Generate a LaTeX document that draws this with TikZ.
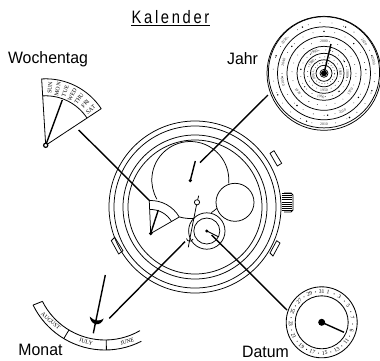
\documentclass[tikz,border=0pt]{standalone}
\usepackage{fontspec}
\usetikzlibrary{calc}
\setmainfont{Liberation Sans}
\newfontfamily\dialfont{Liberation Serif}
\newfontfamily\spacedfont[LetterSpace=18]{Liberation Sans}
\begin{document}
\begin{tikzpicture}[x=1pt,y=1pt,
  thinline/.style={line width=0.75pt,black},
  leader/.style={line width=1.4pt,black},
  hand/.style={line width=1.4pt,black},
  lab/.style={font=\fontsize{16.5}{17}\selectfont,inner sep=0pt,xscale=0.96},
  dial/.style={font=\dialfont\fontsize{5.8}{6}\selectfont,inner sep=0pt},
  year/.style={font=\dialfont\fontsize{3.8}{4}\selectfont,inner sep=0pt,fill=white,text=black!80},
  dots/.style={line width=0.8pt,line cap=round,dash pattern=on 0pt off #1}]
\useasboundingbox (0,0) rectangle (380,-360);
% titles
\node[font=\spacedfont\fontsize{18}{19}\selectfont,inner sep=0pt,xscale=0.82] (title) at (170.5,-17) {Kalender};
\draw[line width=0.9pt] (title.south west |- 0,-25.5) -- (title.south east |- 0,-25.5);
\node[lab] (wo) at (48,-59) {Wochentag};
\node[lab] (ja) at (242.5,-59) {Jahr};
\node[lab] (mo) at (40.5,-349.5) {Monat};
\node[lab] (da) at (265.5,-351.5) {Datum};

% ---- Jahr disc
\coordinate (jc) at (324,-73.3);
\draw[thinline] (jc) circle[radius=57pt];
\draw[thinline] (324,-72.3) circle[radius=55.6pt];
\foreach \r in {46.5,37,27,20,13.5,8,4}
  \draw[thinline] (jc) circle[radius=\r pt];
\foreach \r/\s in {51/12,42/11,32/9,23.5/7,16.5/5,10.7/3}
  \draw[dots=\s pt] (jc) circle[radius=\r pt];
\foreach \a in {20,65,115,160,205,250,300,340}{
  \fill ($(jc)+(\a:51pt)$) circle[radius=0.8pt];
  \fill ($(jc)+(\a+25:42pt)$) circle[radius=0.8pt];
  \fill ($(jc)+(\a+10:23.5pt)$) circle[radius=0.7pt];
}
\foreach \n/\r/\a/\t in {a/51/141/2030,b/32/90/2000,c/51/38/2020,d/51/14/2050,e/42/165/2040,
   f/23.5/115/1990,g/16.5/140/1980,h/42/192/2010,i/32/215/1970,j/32/-35/1970,k/42/-64/2010,l/51/270/2010,
   m/23.5/0/1980,n/16.5/5/1960,o/16.5/270/1950,p/10.7/190/1940,q/23.5/262/1960}{
  \pgfmathsetmacro\rot{(sin(\a)<-0.01)?\a+90:\a-90}
  \node[year,rotate=\rot] (y\n) at ($(jc)+(\a:\r pt)$) {\t};
}
\fill[black] (jc) circle[radius=3pt];
\coordinate (jt) at (331,-44);
\draw[hand] (jc) -- (jt);

% ---- Wochentag sector
\coordinate (wp) at (45.7,-145.3);
\path (wp) ++(93.5:66.5pt) coordinate (wa);
\path (wp) ++(33.4:66.5pt) coordinate (wb);
\draw[thinline,line width=0.8pt] (wb) -- (wp) -- (wa) arc[start angle=93.5,end angle=33.4,radius=66.5pt];
\draw[thinline,line width=0.8pt] (wp) ++(93.5:49.5pt) arc[start angle=93.5,end angle=33.4,radius=49.5pt];
\foreach \t/\a in {SUN/85.7,MON/78,TUE/70,WED/62.5,THU/54.5,FRI/46.5,SAT/38.5}
  \node[dial,rotate=\a] (w\t) at ($(wp)+(\a:57.5pt)$) {\t};
\coordinate (wh) at (62.3,-100);
\draw[hand] (wp) -- (wh);
\draw[line width=1.2pt,fill=white] (wp) circle[radius=2.1pt];

% ---- Watch case
\coordinate (wc) at (195,-207);
\draw[thinline,fill=white] (270,-153.3) -- (274,-150.7) -- (281.7,-163.3) -- (277.3,-166) -- cycle;
\draw[thinline,fill=white] (270,-253) -- (273,-256) -- (280,-243) -- (276.7,-240.7) -- cycle;
\draw[thinline,fill=white] (111.3,-240.7) -- (114.7,-237.3) -- (123,-250.7) -- (118.7,-254) -- cycle;
\foreach \y in {193.5,195.6,...,211.5}
  \draw[line width=0.7pt] (281.5,-\y) -- (291.5,-\y);
\draw[thinline] (284,-193) -- (291,-193) -- (293,-195) -- (293,-210) -- (291,-212) -- (284,-212);
\foreach \r in {86,81,72,67}
  \draw[thinline] (wc) circle[radius=\r pt];

% ---- Sub dials
\coordinate (bc) at (190.3,-180);
\draw[thinline] (bc) ++(-5:38.5pt) arc[start angle=-5,end angle=210,radius=38.5pt];
\draw[thinline] (bc) ++(253.4:38.5pt) arc[start angle=253.4,end angle=276,radius=38.5pt];
\draw[thinline] (bc) ++(-57:38.8pt) arc[start angle=-57,end angle=-47,radius=38.8pt];
\draw[thinline] (235,-202.3) circle[radius=19pt];
\coordinate (dc) at (206.8,-231);
\draw[thinline] (dc) circle[radius=13pt];
\draw[thinline] (dc) circle[radius=18.2pt];
% small sector on the watch
\coordinate (sp) at (150.7,-233.5);
\path (sp) ++(92.5:33pt) coordinate (sa);
\path (sp) ++(30:33pt) coordinate (sb);
\draw[thinline] (sb) -- (sp) -- (sa) arc[start angle=92.5,end angle=30,radius=33pt];
\draw[thinline] (sp) ++(92.5:24pt) arc[start angle=92.5,end angle=30,radius=24pt];
\coordinate (sh) at (158.3,-210);
\draw[hand] (sp) -- (sh);
\fill (sp) circle[radius=1.9pt];
% hands in the watch
\coordinate (jh) at (195.3,-161);
\draw[hand] (190.3,-180.5) -- (jh);
\fill (190.3,-180.5) circle[radius=1.8pt];
\coordinate (dh) at (218.5,-236.8);
\draw[thinline,line width=0.9pt] (dc) -- (dh);
\fill (dc) circle[radius=1.7pt];
% month pointer in the watch
\coordinate (mp) at (197,-202.3);
\coordinate (mt) at (198.7,-195.7);
\coordinate (mb) at (188.3,-247.3);
\draw[thinline] (mt) -- (mp);
\draw[thinline] (mp) .. controls (194,-218) and (191,-232) .. (mb);
\draw[thinline,fill=white] (mp) circle[radius=2.6pt];
\draw[thinline] (186.5,-238.5) .. controls (187,-242) and (192,-242) .. (193,-239);

% ---- Datum dial
\coordinate (rc) at (321.7,-322.3);
\draw[thinline,line width=0.85pt] (rc) circle[radius=35.5pt];
\draw[thinline,line width=0.85pt] (rc) circle[radius=26.5pt];
\foreach \d in {1,3,...,31}{
  \pgfmathsetmacro\a{78-(\d-1)*11.6}
  \pgfmathsetmacro\rot{(sin(\a)<-0.01)?\a+90:\a-90}
  \node[dial,font=\dialfont\fontsize{5.6}{6}\selectfont,rotate=\rot] (d\d) at ($(rc)+(\a:31pt)$) {\d};
}
\foreach \d in {2,4,...,30}{
  \pgfmathsetmacro\a{78-(\d-1)*11.6}
  \fill ($(rc)+(\a:31pt)$) circle[radius=0.55pt];
}
\coordinate (rh) at (344,-332.3);
\draw[hand] (rc) -- (rh);
\fill (rc) circle[radius=3.5pt];

% ---- Monat band
\coordinate (bm) at (105,-270);
\draw[thinline,line width=0.85pt] (bm) ++(206.6:70pt) arc[start angle=206.6,end angle=300,radius=70pt];
\draw[thinline,line width=0.85pt] (bm) ++(206:80pt) arc[start angle=206,end angle=297,radius=80pt];
\draw[thinline,line width=0.85pt] ($(bm)+(206.6:70pt)$) -- ($(bm)+(206:80pt)$);
\draw[thinline,line width=0.85pt] ($(bm)+(239:70pt)$) -- ($(bm)+(239:80pt)$);
\draw[thinline,line width=0.85pt] ($(bm)+(271:70pt)$) -- ($(bm)+(271:80pt)$);
\node[dial,rotate=-42] (aug) at (50.7,-321) {AUGUST};
\node[dial,rotate=-15] (jul) at (86,-341.7) {JULY};
\node[dial,rotate=17] (jun) at (127.3,-341.7) {JUNE};
\coordinate (mh) at (105.3,-275);
\coordinate (me) at (93.3,-333.3);
\draw[hand] (mh) -- (me);
\fill (89.7,-316.5) .. controls (91,-326) and (101,-327) .. (103.7,-318.5) .. controls (100,-321.5) and (94,-321.5) .. cycle;

% ---- Leaders
\coordinate (l1a) at (268,-95);   \coordinate (l1b) at (200,-162.7);
\coordinate (l2a) at (78.7,-130); \coordinate (l2b) at (150,-201);
\coordinate (l3a) at (185,-241.7);\coordinate (l3b) at (109.3,-318.3);
\coordinate (l4a) at (211.7,-235);\coordinate (l4b) at (287,-310);
\draw[leader] (l1a) -- (l1b);
\draw[leader] (l2a) -- (l2b);
\draw[leader] (l3a) -- (l3b);
\draw[leader] (l4a) -- (l4b);
\end{tikzpicture}
\end{document}
